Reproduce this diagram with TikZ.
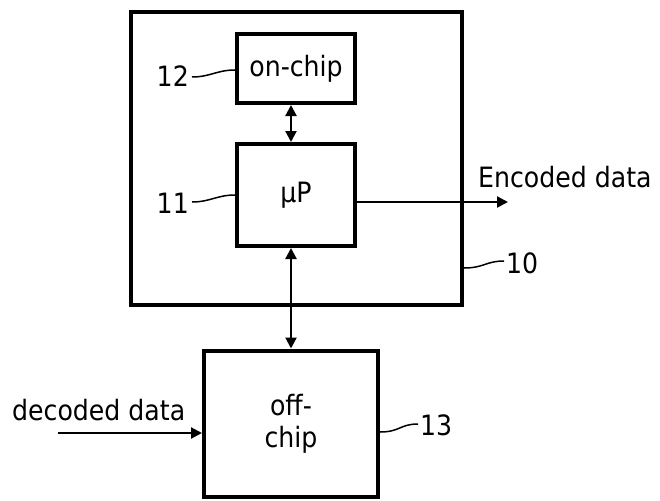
\documentclass[tikz,border=0pt]{standalone}
\usepackage{fontspec}
\setmainfont{DejaVu Sans}[FakeStretch=0.9]
\usetikzlibrary{arrows.meta}
\begin{document}
\begin{tikzpicture}[x=1pt,y=-1pt,
  box/.style={draw, line width=4pt, inner sep=0pt, font=\fontsize{28}{32}\selectfont, align=center},
  lbl/.style={inner sep=0pt, font=\fontsize{28}{32}\selectfont},
  conn/.style={line width=2.2pt, -{Triangle[length=11pt,width=11pt]}},
  dbl/.style={line width=2.2pt, {Triangle[length=11pt,width=11pt]}-{Triangle[length=11pt,width=11pt]}},
  lead/.style={line width=1.5pt}]
\useasboundingbox (0,0) rectangle (660,500);
% boxes
\node[box, minimum width=331pt, minimum height=293pt] (outer) at (296.5,158.5) {};
\node[box, minimum width=118pt, minimum height=69pt] (onchip) at (296,68.5) {on-chip};
\node[box, minimum width=118pt, minimum height=102pt] (mup) at (296,195) {μP};
\node[box, minimum width=174pt, minimum height=146pt] (offchip) at (291,423.5) {off-\\chip};
% connectors
\draw[dbl] ([xshift=-5pt]onchip.south) -- ([xshift=-5pt]mup.north);
\draw[dbl] ([xshift=-5pt]mup.south) -- (offchip.north);
\coordinate (encend) at (508,202);
\draw[conn] ([yshift=-7pt]mup.east) -- (encend);
\coordinate (decstart) at (58,433);
\draw[conn] (decstart) -- (decstart -| offchip.west);
% texts
\node[lbl, anchor=base west] (enc) at (478,187) {Encoded data};
\node[lbl, anchor=base west] (dec) at (12,420) {decoded data};
% reference labels
\node[lbl, anchor=base east] (l12) at (189,87) {12};
\node[lbl, anchor=base east] (l11) at (189,213) {11};
\node[lbl, anchor=base west] (l10) at (506,273) {10};
\node[lbl, anchor=base west] (l13) at (420,435) {13};
\draw[lead] (l12.east |- 0,77) ++(3,0) .. controls +(18,0) and +(-18,0) .. (onchip.west |- 0,70);
\draw[lead] (l11.east |- 0,202) ++(3,0) .. controls +(18,0) and +(-18,0) .. (mup.west |- 0,195);
\draw[lead] (outer.east |- 0,268) .. controls +(20,0) and +(-18,0) .. ([xshift=-2pt]l10.west |- 0,261);
\draw[lead] (offchip.east |- 0,432) .. controls +(20,0) and +(-18,0) .. ([xshift=-2pt]l13.west |- 0,424);
\end{tikzpicture}
\end{document}
